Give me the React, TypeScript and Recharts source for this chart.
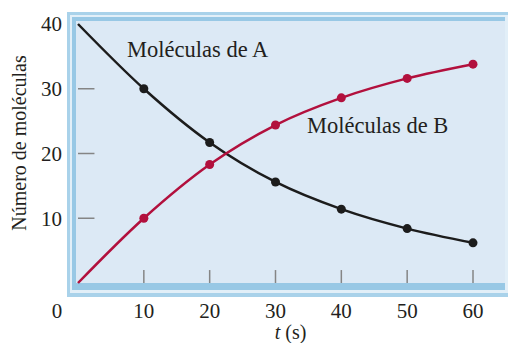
import React from "react";
import { LineChart, Line, XAxis, YAxis, ReferenceLine, ReferenceDot } from "recharts";

const times = [0, 10, 20, 30, 40, 50, 60];
const moleculesA = [40, 30, 21.7, 15.6, 11.4, 8.4, 6.2];
const moleculesB = [0, 10, 18.3, 24.4, 28.6, 31.6, 33.8];
const xTicks = [0, 10, 20, 30, 40, 50, 60];
const yTicks = [10, 20, 30, 40];
const xTickMarks = [10, 20, 30, 40, 50, 60];
const yTickMarks = [10, 20, 30];
const labelA = { x: 7.45, y: 34.9, text: "Moléculas de A" };
const labelB = { x: 34.8, y: 23.2, text: "Moléculas de B" };

const data = times.map((t, i) => ({ t, a: moleculesA[i], b: moleculesB[i] }));

const FONT = "'Liberation Serif', 'Times New Roman', serif";
const COLOR_A = "#1c1c1c";
const COLOR_B = "#b2103d";
const TICK_COLOR = "#858585";
const TEXT = "#231f20";

const makeDot = (color: string) => (props: any) => {
  const { cx, cy, index } = props;
  if (index === 0) return <g key={`d${index}`} />;
  return <circle key={`d${index}`} cx={cx} cy={cy} r={4.5} fill={color} stroke="none" />;
};

const XTick = (props: any) => {
  const { x, y, payload } = props;
  const shift = payload.value === 0 ? -21 : 0;
  return (
    <text x={x + shift} y={y} dy="0.71em" textAnchor="middle" fontFamily={FONT} fontSize={21} fill={TEXT}>
      {payload.value}
    </text>
  );
};

const YTick = (props: any) => {
  const { x, y, payload } = props;
  return (
    <text x={x} y={y} dy="0.355em" textAnchor="end" fontFamily={FONT} fontSize={21} fill={TEXT}>
      {payload.value}
    </text>
  );
};

const XTitle = (props: any) => {
  const vb = props.viewBox;
  return (
    <text x={vb.x + vb.width / 2 + 15} y={vb.y + 56} textAnchor="middle" fontFamily={FONT} fontSize={20} fill={TEXT}>
      <tspan fontStyle="italic">t</tspan>
      <tspan> (s)</tspan>
    </text>
  );
};

const YTitle = (props: any) => {
  const vb = props.viewBox;
  const cx = 26;
  const cy = vb.y + vb.height / 2 - 10.5;
  return (
    <text x={cx} y={cy} textAnchor="middle" transform={`rotate(-90, ${cx}, ${cy})`} fontFamily={FONT} fontSize={20} fill={TEXT}>
      Número de moléculas
    </text>
  );
};

const makeAnnot = (text: string) => (props: any) => {
  const vb = props.viewBox;
  return (
    <text x={vb.x} y={vb.y} textAnchor="start" fontFamily={FONT} fontSize={22.5} fill={TEXT}>
      {text}
    </text>
  );
};

const box = (l: number, t: number, r: number, b: number, bg: string): React.CSSProperties => ({
  position: "absolute",
  left: l,
  top: t,
  width: r - l,
  height: b - t,
  background: bg,
});

export default function App() {
  return (
    <div style={{ position: "absolute", left: 0, top: 0, width: 509, height: 343, background: "#fff" }}>
      <div style={box(67, 12, 508, 297, "#a9d2ea")} />
      <div style={box(70, 15, 508, 293, "#e2eff8")} />
      <div style={box(72, 17, 505, 290, "#98c8e5")} />
      <div style={box(76, 21, 505, 283, "#dce9f5")} />
      <div style={{ position: "absolute", left: 0, top: 0 }}>
        <LineChart width={509} height={343} data={data} margin={{ top: 24, right: 36, left: 0, bottom: 0 }}>
          <XAxis
            dataKey="t"
            type="number"
            domain={[0, 60]}
            ticks={xTicks}
            interval={0}
            axisLine={false}
            tickLine={false}
            tickSize={0}
            tickMargin={20}
            height={60}
            tick={<XTick />}
            label={<XTitle />}
          />
          <YAxis
            type="number"
            domain={[0, 40]}
            ticks={yTicks}
            interval={0}
            axisLine={false}
            tickLine={false}
            tickSize={0}
            tickMargin={16}
            width={78}
            tick={<YTick />}
            label={<YTitle />}
          />
          {xTickMarks.map((v) => (
            <ReferenceLine key={`xt${v}`} segment={[{ x: v, y: 0 }, { x: v, y: 2 }]} stroke={TICK_COLOR} strokeWidth={1.5} />
          ))}
          {yTickMarks.map((v) => (
            <ReferenceLine key={`yt${v}`} segment={[{ x: 0, y: v }, { x: 2.5, y: v }]} stroke={TICK_COLOR} strokeWidth={1.5} />
          ))}
          <Line
            type="monotone"
            dataKey="a"
            stroke={COLOR_A}
            strokeWidth={2.5}
            dot={makeDot(COLOR_A)}
            activeDot={false}
            isAnimationActive={false}
          />
          <Line
            type="monotone"
            dataKey="b"
            stroke={COLOR_B}
            strokeWidth={2.5}
            dot={makeDot(COLOR_B)}
            activeDot={false}
            isAnimationActive={false}
          />
          <ReferenceDot x={labelA.x} y={labelA.y} r={0} fill="none" stroke="none" label={makeAnnot(labelA.text)} />
          <ReferenceDot x={labelB.x} y={labelB.y} r={0} fill="none" stroke="none" label={makeAnnot(labelB.text)} />
        </LineChart>
      </div>
    </div>
  );
}
